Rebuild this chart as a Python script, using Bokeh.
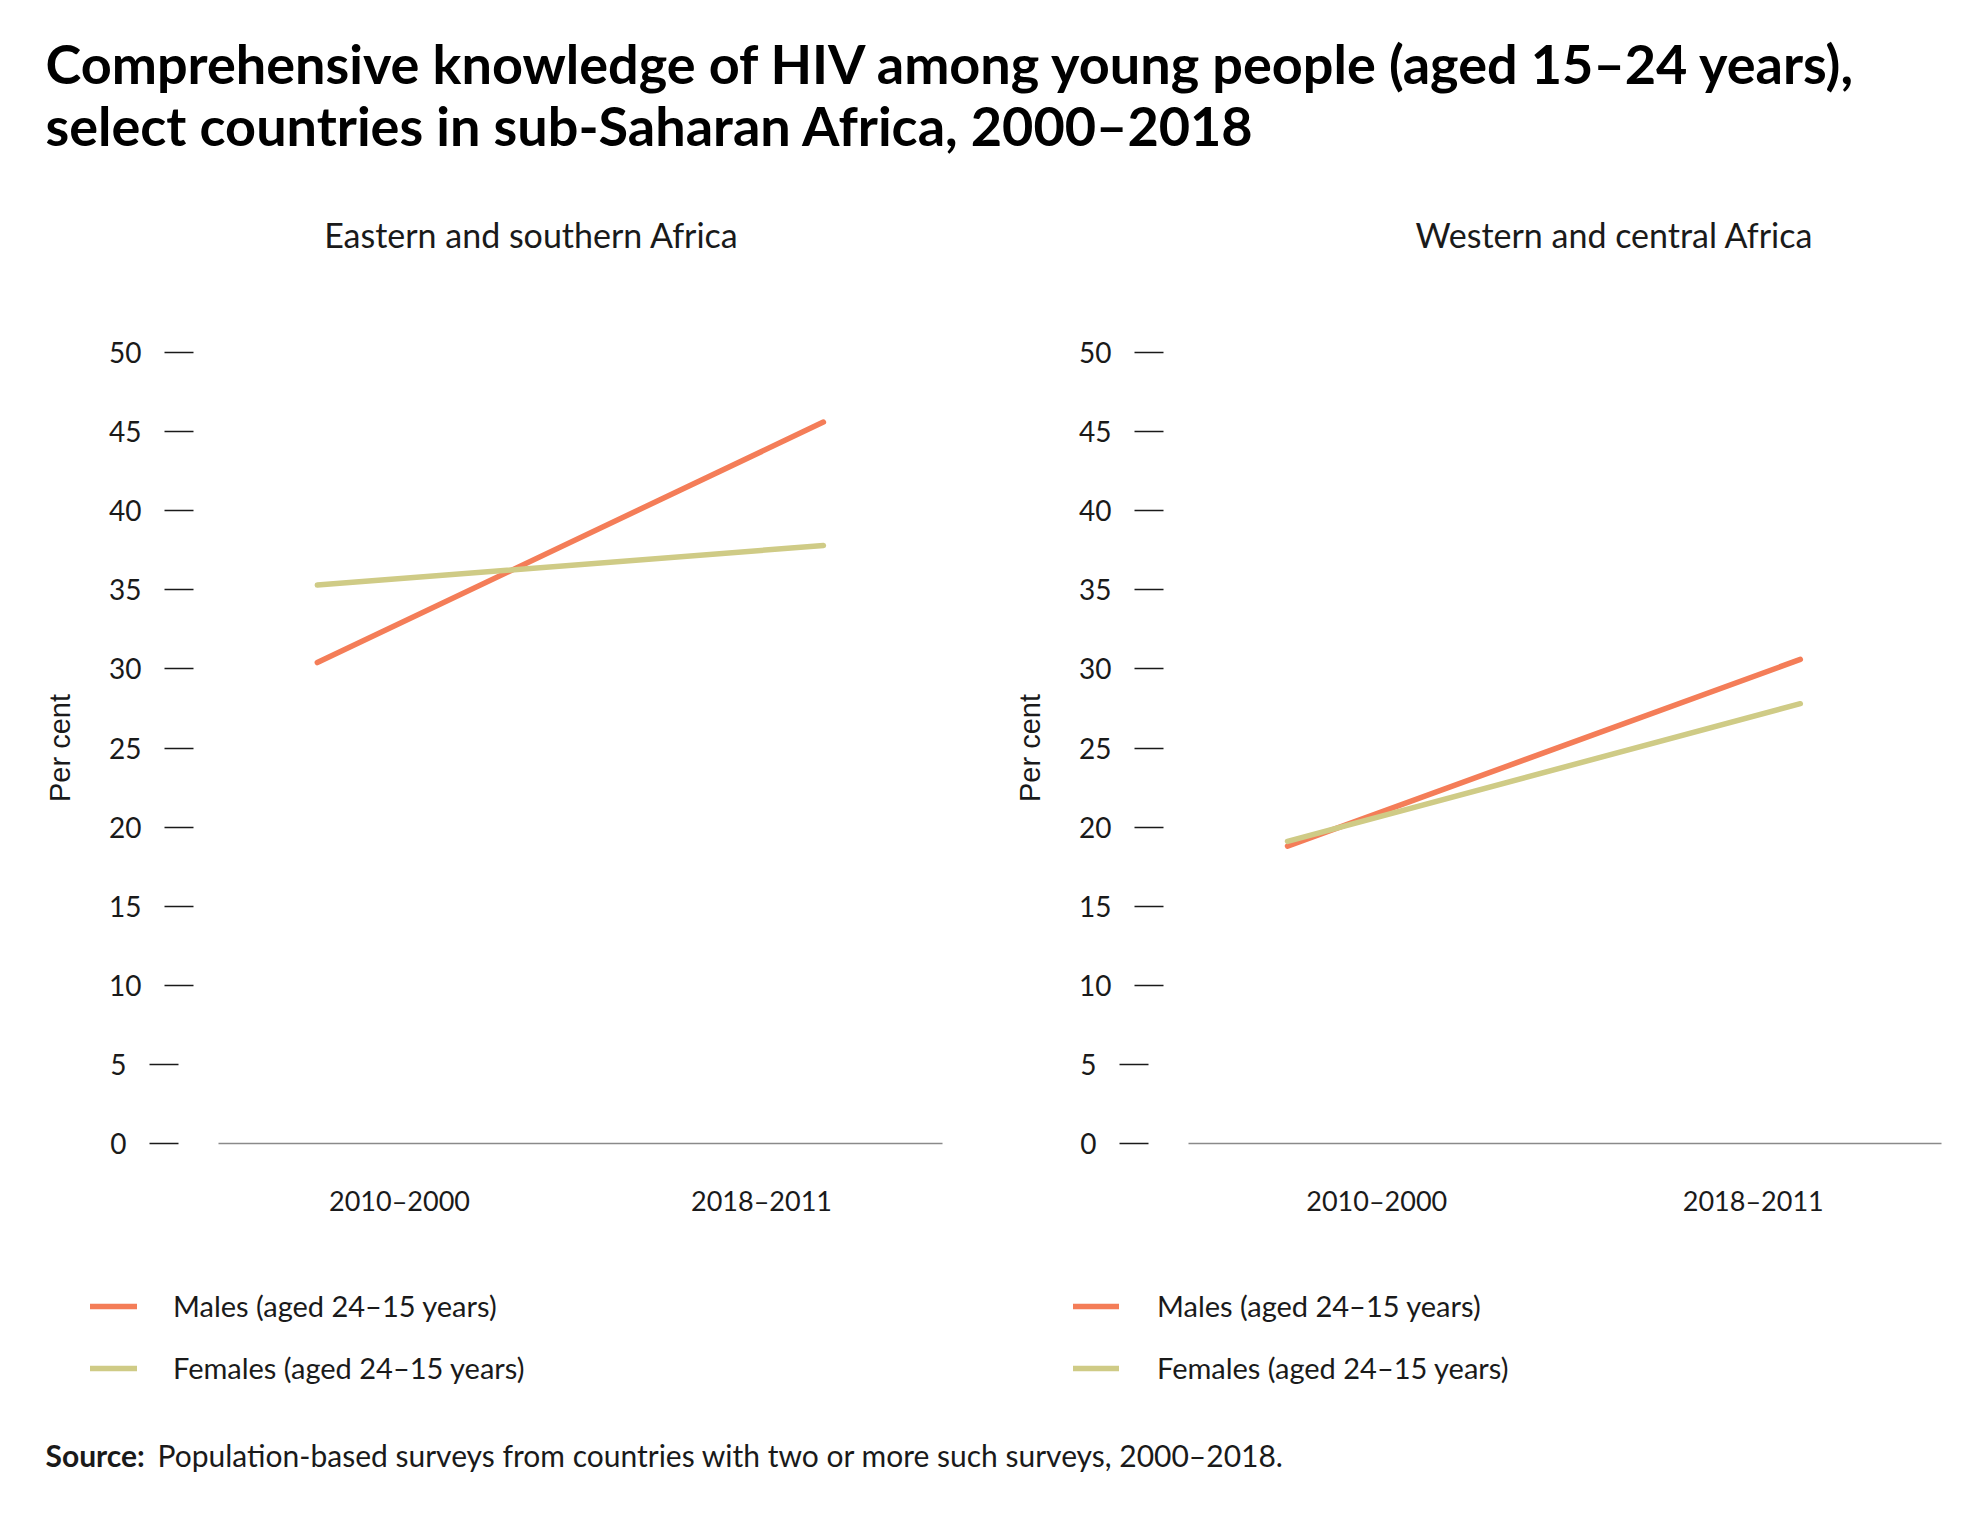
from bokeh.plotting import figure
from bokeh.models import (Range1d, ColumnDataSource, Legend, LegendItem,
                          Label, FixedTicker, LinearAxis)
from bokeh.transform import dodge
from bokeh.layouts import column, row
from bokeh.embed import file_html
from bokeh.resources import INLINE

# ---------------- data ----------------
periods = ["2010–2000", "2018–2011"]
esa_males = [30.4, 45.6]
esa_females = [35.3, 37.8]
wca_males = [18.8, 30.6]
wca_females = [19.1, 27.8]
y_ticks = [0, 5, 10, 15, 20, 25, 30, 35, 40, 45, 50]
series_labels = ["Males (aged 24–15 years)", "Females (aged 24–15 years)"]
panel_titles = ["Eastern and southern Africa", "Western and central Africa"]
title_lines = ["Comprehensive knowledge of HIV among young people (aged 15–24 years),",
               "select countries in sub-Saharan Africa, 2000–2018"]
source_bold = "Source:"
source_text = "Population-based surveys from countries with two or more such surveys, 2000–2018."

# ---------------- style / layout (pixels) ----------------
FONT = "Lato"
MALE_C = "#F47D58"
FEMALE_C = "#CFCB86"
TEXT_C = "#1a1a1a"
TOTAL_W = 1977
HEAD_H = 300
PANEL_H = 1100
FOOT_H = 122
Y_MAX = 50
# within a panel canvas: top of value axis, bottom (zero) line
PLOT_TOP = 52
PLOT_BOTTOM = 843
DASH_LEN = 29          # length of the dash mark beside each value label
DASH_GAP = 25          # gap between the dash and the plot area
NARROW_SHIFT = 15      # single-digit labels: dash sits one digit further left


def make_panel(males, females, width, plot_l, plot_r, off0, off1, leg_x, glyph_w, lab_standoff):
    n = len(periods)
    ux = n / (plot_r - plot_l)
    uy = Y_MAX / (PLOT_BOTTOM - PLOT_TOP)
    x_rng = Range1d(-plot_l * ux, n + (width - plot_r) * ux)
    y_rng = Range1d(-(PANEL_H - PLOT_BOTTOM) * uy, Y_MAX + PLOT_TOP * uy)
    p = figure(width=width, height=PANEL_H, x_range=x_rng, y_range=y_rng,
               output_backend="svg", toolbar_location=None, min_border=0,
               y_axis_location=None)
    p.outline_line_color = None
    p.xgrid.visible = False
    p.ygrid.visible = False
    p.background_fill_color = "white"
    p.border_fill_color = "white"

    pos = [i + 0.5 for i in range(n)]
    renderers = []
    for vals, col in ((males, MALE_C), (females, FEMALE_C)):
        src = ColumnDataSource(dict(x0=[pos[0]], x1=[pos[1]], v0=[vals[0]], v1=[vals[1]]))
        r = p.segment(x0=dodge("x0", off0), y0="v0", x1=dodge("x1", off1), y1="v1",
                      source=src, line_color=col, line_width=5.5, line_cap="round")
        renderers.append(r)

    # value axes: labels with a detached dash mark (two-digit and one-digit labels)
    wide = [t for t in y_ticks if t >= 10]
    narrow = [t for t in y_ticks if t < 10]
    for ticks, shift, with_title in ((wide, 0, True), (narrow, NARROW_SHIFT, False)):
        ax = LinearAxis(fixed_location=-(DASH_GAP + shift) * ux,
                        ticker=FixedTicker(ticks=ticks),
                        bounds=(0, Y_MAX),
                        axis_line_color=None, minor_tick_line_color=None,
                        major_tick_in=0, major_tick_out=DASH_LEN,
                        major_tick_line_color=TEXT_C, major_tick_line_width=1.5,
                        major_label_standoff=23,
                        major_label_text_font=FONT,
                        major_label_text_font_size="28px",
                        major_label_text_color=TEXT_C)
        if with_title:
            ax.axis_label = "Per cent"
            ax.axis_label_text_font = "Liberation Sans"
            ax.axis_label_text_font_style = "normal"
            ax.axis_label_text_font_size = "29px"
            ax.axis_label_text_color = TEXT_C
            ax.axis_label_standoff = 30
        p.add_layout(ax, "left")

    xa = p.xaxis[0]
    xa.fixed_location = 0
    xa.bounds = (0, n)
    xa.ticker = FixedTicker(ticks=pos)
    xa.major_label_overrides = {pos[i]: periods[i] for i in range(n)}
    xa.axis_line_color = "#8a8a8a"
    xa.axis_line_width = 1.5
    xa.major_tick_line_color = None
    xa.minor_tick_line_color = None
    xa.major_tick_out = 0
    xa.major_tick_in = 0
    xa.major_label_standoff = 40
    xa.major_label_text_font = FONT
    xa.major_label_text_font_size = "27px"
    xa.major_label_text_color = TEXT_C

    items = [LegendItem(label=series_labels[i], renderers=[renderers[i]]) for i in range(2)]
    leg = Legend(items=items, location=(leg_x, 15), orientation="vertical",
                 border_line_color=None, background_fill_alpha=0,
                 padding=0, margin=0, spacing=27,
                 glyph_width=glyph_w, glyph_height=34, label_height=34,
                 label_standoff=lab_standoff,
                 label_text_font=FONT, label_text_font_size="29px",
                 label_text_color=TEXT_C)
    p.add_layout(leg)
    return p


def text_fig(height):
    f = figure(width=TOTAL_W, height=height, x_range=Range1d(0, TOTAL_W),
               y_range=Range1d(height, 0), output_backend="svg",
               toolbar_location=None, x_axis_location=None, y_axis_location=None,
               min_border=0)
    f.outline_line_color = None
    f.xgrid.visible = False
    f.ygrid.visible = False
    return f


header = text_fig(HEAD_H)
for line, y in zip(title_lines, [63, 125]):
    header.add_layout(Label(x=45, y=y, text=line, text_font=FONT, text_font_style="bold",
                            text_font_size="54px", text_color="#000000",
                            text_align="left", text_baseline="alphabetic"))
for t, cx in zip(panel_titles, [531, 1614]):
    header.add_layout(Label(x=cx, y=234, text=t, text_font=FONT, text_font_size="34px",
                            text_color=TEXT_C, text_align="center",
                            text_baseline="alphabetic"))

# left panel canvas spans x 0..1000, right panel 1000..1977
p_left = make_panel(esa_males, esa_females, 1000, 218, 942, -0.227, 0.171, 90, 47, 36)
p_right = make_panel(wca_males, wca_females, 977, 188, 941, -0.237, 0.125, 73, 46, 38)

footer = text_fig(FOOT_H)
footer.add_layout(Label(x=45, y=54, text=source_bold, text_font=FONT, text_font_style="bold",
                        text_font_size="30px", text_color=TEXT_C,
                        text_align="left", text_baseline="alphabetic"))
footer.add_layout(Label(x=157, y=54, text=source_text, text_font=FONT,
                        text_font_size="30px", text_color=TEXT_C,
                        text_align="left", text_baseline="alphabetic"))

layout = column(header, row(p_left, p_right), footer)

open("out.html", "w").write(file_html(layout, INLINE))
